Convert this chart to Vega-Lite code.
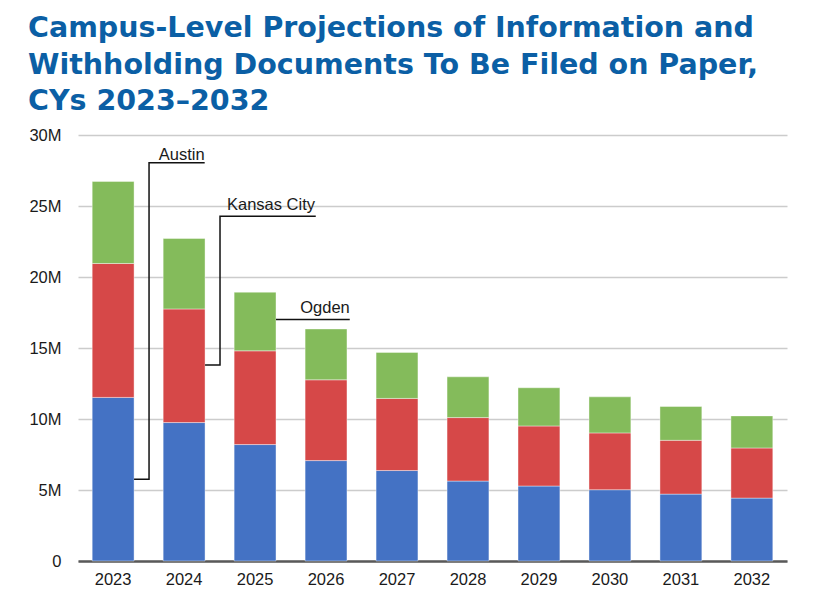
{
  "$schema": "https://vega.github.io/schema/vega-lite/v6.json",
  "width": 709,
  "height": 426,
  "autosize": {"type": "none"},
  "padding": {"left": 78, "top": 135, "right": 30, "bottom": 37},
  "background": "white",
  "title": {
    "text": ["Campus-Level Projections of Information and", "Withholding Documents To Be Filed on Paper,", "CYs 2023–2032"],
    "anchor": "start",
    "frame": "group",
    "dx": -50,
    "offset": 11,
    "font": "DejaVu Sans",
    "fontWeight": "bold",
    "fontSize": 28.5,
    "lineHeight": 36.7,
    "color": "#0B5FA5"
  },
  "config": {
    "view": {"stroke": null},
    "font": "Liberation Sans, Arial, sans-serif"
  },
  "datasets": {
    "bars": [
      {"year": "2023", "campus": "Austin", "millions": 11.52},
      {"year": "2023", "campus": "Kansas City", "millions": 9.43},
      {"year": "2023", "campus": "Ogden", "millions": 5.78},
      {"year": "2024", "campus": "Austin", "millions": 9.75},
      {"year": "2024", "campus": "Kansas City", "millions": 8.0},
      {"year": "2024", "campus": "Ogden", "millions": 4.96},
      {"year": "2025", "campus": "Austin", "millions": 8.2},
      {"year": "2025", "campus": "Kansas City", "millions": 6.6},
      {"year": "2025", "campus": "Ogden", "millions": 4.13},
      {"year": "2026", "campus": "Austin", "millions": 7.07},
      {"year": "2026", "campus": "Kansas City", "millions": 5.69},
      {"year": "2026", "campus": "Ogden", "millions": 3.58},
      {"year": "2027", "campus": "Austin", "millions": 6.37},
      {"year": "2027", "campus": "Kansas City", "millions": 5.08},
      {"year": "2027", "campus": "Ogden", "millions": 3.24},
      {"year": "2028", "campus": "Austin", "millions": 5.63},
      {"year": "2028", "campus": "Kansas City", "millions": 4.47},
      {"year": "2028", "campus": "Ogden", "millions": 2.87},
      {"year": "2029", "campus": "Austin", "millions": 5.28},
      {"year": "2029", "campus": "Kansas City", "millions": 4.23},
      {"year": "2029", "campus": "Ogden", "millions": 2.69},
      {"year": "2030", "campus": "Austin", "millions": 5.02},
      {"year": "2030", "campus": "Kansas City", "millions": 4.0},
      {"year": "2030", "campus": "Ogden", "millions": 2.54},
      {"year": "2031", "campus": "Austin", "millions": 4.71},
      {"year": "2031", "campus": "Kansas City", "millions": 3.79},
      {"year": "2031", "campus": "Ogden", "millions": 2.38},
      {"year": "2032", "campus": "Austin", "millions": 4.43},
      {"year": "2032", "campus": "Kansas City", "millions": 3.53},
      {"year": "2032", "campus": "Ogden", "millions": 2.26}
    ],
    "leaders": [
      {"campus": "Austin", "seq": 1, "pos": 0.295, "millions": 5.75},
      {"campus": "Austin", "seq": 2, "pos": 0.506, "millions": 5.75},
      {"campus": "Austin", "seq": 3, "pos": 0.506, "millions": 28.05},
      {"campus": "Austin", "seq": 4, "pos": 1.29, "millions": 28.05},
      {"campus": "Kansas City", "seq": 1, "pos": 1.295, "millions": 13.8},
      {"campus": "Kansas City", "seq": 2, "pos": 1.506, "millions": 13.8},
      {"campus": "Kansas City", "seq": 3, "pos": 1.506, "millions": 24.27},
      {"campus": "Kansas City", "seq": 4, "pos": 2.855, "millions": 24.27},
      {"campus": "Ogden", "seq": 1, "pos": 2.295, "millions": 17.0},
      {"campus": "Ogden", "seq": 2, "pos": 3.334, "millions": 17.0}
    ],
    "labels": [
      {"campus": "Austin", "pos": 1.29, "millions": 28.23},
      {"campus": "Kansas City", "pos": 2.845, "millions": 24.75},
      {"campus": "Ogden", "pos": 3.334, "millions": 17.48}
    ]
  },
  "layer": [
    {
      "data": {"name": "bars"},
      "mark": {"type": "bar", "stroke": "white", "strokeWidth": 0.8, "strokeOpacity": 0.5},
      "encoding": {
        "x": {
          "field": "year",
          "type": "ordinal",
          "scale": {"paddingInner": 0.41, "paddingOuter": 0.2},
          "axis": {
            "title": null,
            "labelAngle": 0,
            "labelFontSize": 16.5,
            "labelColor": "#1a1a1a",
            "labelPadding": 10,
            "ticks": false,
            "tickSize": 0,
            "domainColor": "#595959",
            "domainWidth": 2.5,
            "grid": false
          }
        },
        "y": {
          "field": "millions",
          "type": "quantitative",
          "stack": "zero",
          "scale": {"domain": [0, 30], "nice": false},
          "axis": {
            "title": null,
            "values": [0, 5, 10, 15, 20, 25, 30],
            "labelExpr": "datum.value == 0 ? '0' : datum.value + 'M'",
            "labelFontSize": 16.5,
            "labelColor": "#1a1a1a",
            "labelPadding": 17,
            "ticks": false,
            "tickSize": 0,
            "domain": false,
            "grid": true,
            "gridColor": "#cccccc",
            "gridWidth": 1.5
          }
        },
        "color": {
          "field": "campus",
          "type": "nominal",
          "scale": {"domain": ["Austin", "Kansas City", "Ogden"], "range": ["#4472C4", "#D64848", "#84BB5B"]},
          "legend": null
        },
        "order": {"field": "campus", "sort": "ascending"}
      }
    },
    {
      "data": {"name": "leaders"},
      "mark": {"type": "line", "color": "#111111", "strokeWidth": 1.5, "interpolate": "linear"},
      "encoding": {
        "x": {"field": "pos", "type": "quantitative", "scale": {"domain": [-0.495, 9.495], "nice": false, "zero": false}, "axis": null},
        "y": {"field": "millions", "type": "quantitative", "axis": null},
        "detail": {"field": "campus", "type": "nominal"},
        "order": {"field": "seq", "type": "quantitative"}
      }
    },
    {
      "data": {"name": "labels"},
      "mark": {"type": "text", "align": "right", "baseline": "alphabetic", "fontSize": 16.5, "color": "#1a1a1a"},
      "encoding": {
        "x": {"field": "pos", "type": "quantitative", "scale": {"domain": [-0.495, 9.495], "nice": false, "zero": false}, "axis": null},
        "y": {"field": "millions", "type": "quantitative", "axis": null},
        "text": {"field": "campus"}
      }
    }
  ],
  "resolve": {"scale": {"x": "independent"}, "axis": {"x": "independent", "y": "independent"}}
}
